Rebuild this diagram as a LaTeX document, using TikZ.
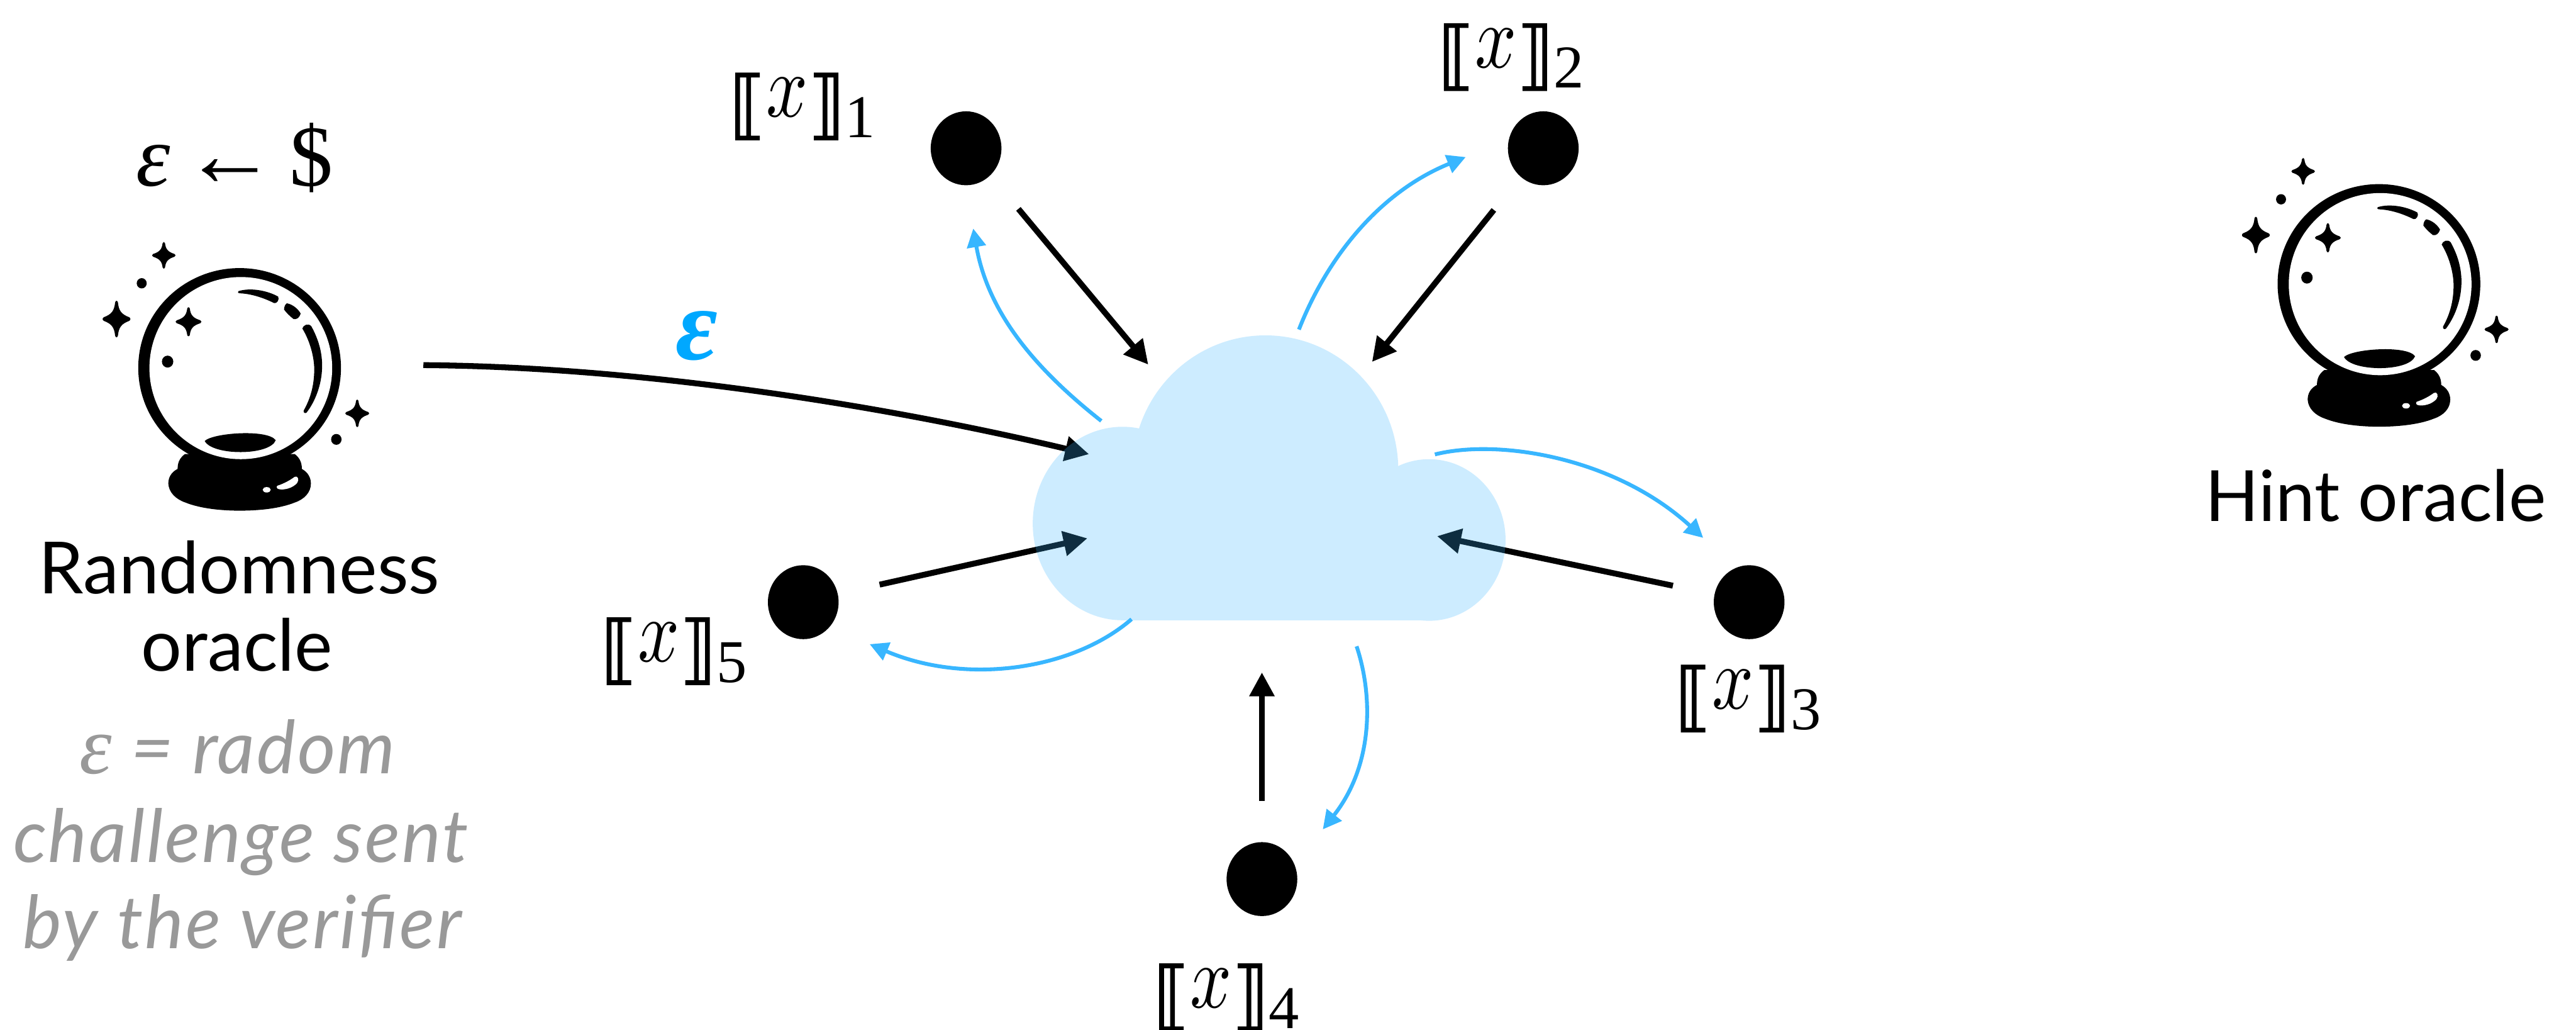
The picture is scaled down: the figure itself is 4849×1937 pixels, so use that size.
\documentclass[tikz,border=0pt]{standalone}
\usepackage{fontspec}
\usetikzlibrary{arrows.meta,shapes.geometric}
\setmainfont{Liberation Serif}
\newfontfamily\avreg{Lato}
\newfontfamily\avit{Lato Italic}[LetterSpace=2.5]
\newfontfamily\tim{Liberation Serif}
\newfontfamily\brk{DejaVu Sans}[FakeBold=1.5]
\definecolor{skyb}{HTML}{38B6FF}
\definecolor{eps}{HTML}{00A8FF}
\definecolor{greytxt}{HTML}{999999}
\tikzset{
  blk/.style={line width=1.1mm,-{Triangle[length=4.5mm,width=4.5mm]}},
  blu/.style={line width=.72mm,skyb,-{Triangle[length=3.5mm,width=3.5mm]}},
  party/.style={ellipse,fill=black,inner sep=0pt,minimum width=1.33cm,minimum height=1.39cm},
  lbl/.style={anchor=base west,inner sep=0pt,outer sep=0pt},
  txt/.style={anchor=base,inner sep=0pt,outer sep=0pt,font=\avreg\fontsize{38.5}{38.5}\selectfont},
  gtxt/.style={txt,text=greytxt,font=\avit\fontsize{39.3}{39.3}\selectfont},
}
\newcommand\bkt[1]{\raisebox{-7pt}{\brk\fontsize{40}{40}\selectfont #1}}
\newcommand\shr[1]{\bkt{⟦}\scalebox{3.9}[4.8]{$x$}\bkt{⟧}\raisebox{-11pt}{\tim\fontsize{32.5}{32.5}\selectfont #1}}
\newcommand\spk[4]{\begin{scope}[shift={(#1,#2)},xscale=#3,yscale=#4]
\fill (-.1,-.9) .. controls (-.06,-1.02) and (.06,-1.02) .. (.1,-.9)
 .. controls (.16,-.45) and (.35,-.26) .. (.9,-.1)
 .. controls (1.02,-.06) and (1.02,.06) .. (.9,.1)
 .. controls (.35,.26) and (.16,.45) .. (.1,.9)
 .. controls (.06,1.02) and (-.06,1.02) .. (-.1,.9)
 .. controls (-.16,.45) and (-.35,.26) .. (-.9,.1)
 .. controls (-1.02,.06) and (-1.02,-.06) .. (-.9,-.1)
 .. controls (-.35,-.26) and (-.16,-.45) .. (-.1,-.9) -- cycle;
\end{scope}}
\newcommand\crystal[2]{\begin{scope}[shift={(#1,#2)},x=0.004464cm,y=-0.005102cm]
\fill (673,965) ellipse [x radius=426.5,y radius=368];
\fill (443,1283) .. controls (425,1295) and (412,1310) .. (412,1338)
 .. controls (385,1350) and (373,1370) .. (373,1392)
 .. controls (375,1425) and (405,1450) .. (445,1462)
 .. controls (510,1485) and (600,1492) .. (673,1492)
 .. controls (750,1492) and (840,1485) .. (905,1462)
 .. controls (945,1450) and (973,1425) .. (973,1392)
 .. controls (973,1370) and (960,1350) .. (935,1338)
 .. controls (935,1310) and (922,1295) .. (905,1283) -- cycle;
\fill[white] (678,966) ellipse [x radius=384.5,y radius=336];
\fill (526,1235) .. controls (560,1205) and (790,1190) .. (825,1232)
 .. controls (800,1290) and (560,1290) .. (526,1235) -- cycle;
\fill (668,682) .. controls (720,668) and (790,680) .. (835,702)
 .. controls (842,712) and (830,730) .. (818,726)
 .. controls (770,705) and (720,692) .. (675,690)
 .. controls (665,690) and (664,684) .. (668,682) -- cycle;
\fill (872,727) .. controls (895,730) and (920,748) .. (930,765)
 .. controls (925,780) and (912,788) .. (900,785)
 .. controls (885,775) and (870,762) .. (860,750)
 .. controls (860,740) and (865,730) .. (872,727) -- cycle;
\fill (937,820) .. controls (940,808) and (962,798) .. (975,812)
 .. controls (1005,860) and (1022,910) .. (1020,965)
 .. controls (1018,1030) and (990,1090) .. (955,1130)
 .. controls (948,1135) and (940,1130) .. (943,1122)
 .. controls (970,1080) and (988,1030) .. (987,965)
 .. controls (985,915) and (965,860) .. (937,820) -- cycle;
\fill[white] (832,1400) .. controls (860,1392) and (885,1380) .. (905,1367)
 .. controls (918,1362) and (925,1378) .. (915,1390)
 .. controls (895,1410) and (860,1416) .. (840,1413)
 .. controls (830,1412) and (826,1404) .. (832,1400) -- cycle;
\fill[white] (787,1415) ellipse [x radius=17,y radius=10];
\fill (261,653) ellipse [x radius=21,y radius=19];
\fill (370,942) ellipse [x radius=24,y radius=22];
\fill (1080,1229) ellipse [x radius=22,y radius=20];
\spk{354}{550}{50}{50}
\spk{155}{785}{59}{68}
\spk{458}{795}{55}{54}
\spk{1168}{1133}{51}{51}
\end{scope}}
\begin{document}
\begin{tikzpicture}[x=0.01cm,y=-0.01cm]
\fill[white,use as bounding box] (0,0) rectangle (4849,1937);
% parties
\node[party] (n1) at (1818.5,279) {};
\node[party] (n2) at (2905,279) {};
\node[party] (n3) at (3292.5,1133) {};
\node[party] (n4) at (2375.4,1654) {};
\node[party] (n5) at (1512,1133) {};
% connector ends
\coordinate (o) at (797,687);
\coordinate (c0) at (2050,854.6);
\coordinate (a1s) at (1917,393);   \coordinate (a1t) at (2161.5,686);
\coordinate (a2s) at (2812,395);   \coordinate (a2t) at (2582.6,681);
\coordinate (a3s) at (3149,1102);  \coordinate (a3t) at (2705,1008.7);
\coordinate (a4s) at (2375.4,1506.5); \coordinate (a4t) at (2375.4,1265);
\coordinate (a5s) at (1655.7,1100); \coordinate (a5t) at (2047,1012.8);
\coordinate (b1s) at (2073,792);   \coordinate (b1t) at (1832,430);
\coordinate (b2s) at (2445,620);   \coordinate (b2t) at (2759,295.5);
\coordinate (b3s) at (2701,855);   \coordinate (b3t) at (3206,1012);
\coordinate (b4s) at (2553.6,1216); \coordinate (b4t) at (2490,1560.5);
\coordinate (b5s) at (2130,1165);  \coordinate (b5t) at (1637,1212);
% black arrows
\draw[blk] (o) .. controls (1200,690) and (1650,760) .. (c0);
\draw[blk] (a1s) -- (a1t);
\draw[blk] (a2s) -- (a2t);
\draw[blk] (a3s) -- (a3t);
\draw[blk] (a4s) -- (a4t);
\draw[blk] (a5s) -- (a5t);
% blue arrows
\draw[blu] (b1s) .. controls (1950,695) and (1860,590) .. (b1t);
\draw[blu] (b2s) .. controls (2500,480) and (2600,360) .. (b2t);
\draw[blu] (b3s) .. controls (2820,825) and (3040,860) .. (b3t);
\draw[blu] (b4s) .. controls (2585,1310) and (2585,1440) .. (b4t);
\draw[blu] (b5s) .. controls (2020,1260) and (1820,1290) .. (b5t);
% cloud
\begin{scope}[transparency group,opacity=.25]
\fill[skyb] (2113,985) ellipse [x radius=169,y radius=182];
\fill[skyb] (2382,884) ellipse [x radius=250,y radius=253];
\fill[skyb] (2690,1016) ellipse [x radius=144,y radius=152];
\fill[skyb] (2113,900) rectangle (2690,1167);
\end{scope}
% crystal balls
\crystal{150}{200}
\crystal{4177}{42}
% labels
\node[lbl] (l1) at (1373,220) {\shr{1}};
\node[lbl] (l2) at (2707,127) {\shr{2}};
\node[lbl] (l3) at (3153,1334) {\shr{3}};
\node[lbl] (l4) at (2171,1896) {\shr{4}};
\node[lbl] (l5) at (1131,1244.7) {\shr{5}};
\node[lbl,font=\tim\fontsize{46.5}{46.5}\selectfont] (top) at (256,350) {{\itshape ε}\kern7pt{\fontsize{50}{50}\selectfont ←}\kern7pt\$};
\node[lbl,text=eps,font=\tim\bfseries\itshape\fontsize{55}{55}\selectfont] (eb) at (1272,677) {ε};
\node[txt] (r1) at (450,1117) {Randomness};
\node[txt] (r2) at (446,1262.5) {oracle};
\node[gtxt] (g1) at (447,1455.6) {{\tim\itshape\fontsize{44}{44}\selectfont ε} = radom};
\node[gtxt] (g2) at (453,1622) {challenge sent};
\node[gtxt] (g3) at (456,1785) {by the verifier};
\node[txt,font=\avreg\fontsize{37.8}{37.8}\selectfont] (h1) at (4472,980.6) {Hint oracle};
\end{tikzpicture}
\end{document}
